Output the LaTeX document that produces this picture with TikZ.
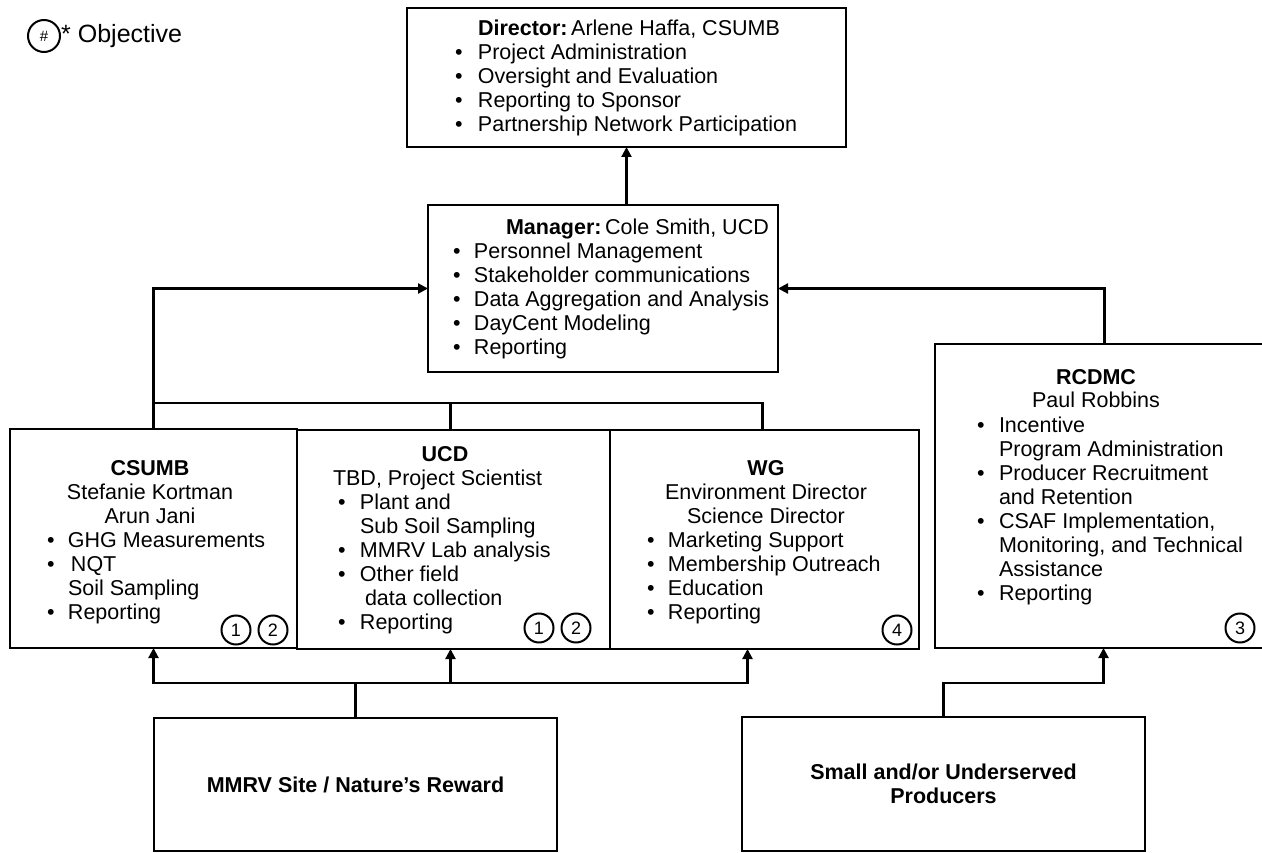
\documentclass[tikz,border=0pt]{standalone}
\usepackage{fontspec}
\setmainfont{Liberation Sans}
\usetikzlibrary{arrows.meta}
\newcommand\bodyfs{\fontsize{21.5}{24}\selectfont}
\newcommand\numfs{\fontsize{18}{20}\selectfont}
\newcommand\legfs{\fontsize{25}{28}\selectfont}
\newcommand\hdr[1]{\begin{tabular}[t]{@{}c@{}}#1\end{tabular}}
\newcommand\blist[2]{\begin{tabular}[t]{@{}p{#1}@{}l@{}}#2\end{tabular}}
\newcommand\bu{\textbullet}
\newcommand\hrow[2]{\multicolumn{2}{@{}l@{}}{\hspace*{#1}#2}}
\begin{document}
\begin{tikzpicture}[x=1pt,y=-1pt,
  box/.style={draw, line width=2.2pt, inner sep=0pt, outer sep=0pt},
  conn/.style={line width=2.2pt},
  arr/.style={conn, -{Triangle[length=10pt,width=10pt]}},
  txt/.style={inner sep=0pt, outer sep=0pt, font=\bodyfs},
  num/.style={draw, circle, line width=2pt, minimum size=29pt, inner sep=0pt, font=\numfs},
]
\useasboundingbox (0,0) rectangle (1262,853);

% legend
\node[num, minimum size=32pt, font=\fontsize{15}{17}\selectfont] (leg) at (44,36) {\#};
\node[inner sep=0pt, anchor=base west, font=\legfs] (legtxt) at (61,43) {* Objective};

% boxes
\node[box, minimum width=439pt, minimum height=139pt] (dir) at (626.5,77.5) {};
\node[box, minimum width=350pt, minimum height=167pt] (mgr) at (603,288.5) {};
\node[box, minimum width=287pt, minimum height=219pt] (csumb) at (153.5,538.5) {};
\node[box, minimum width=313pt, minimum height=219pt] (ucd) at (453.5,539.5) {};
\node[box, minimum width=309pt, minimum height=219pt] (wg) at (764.5,539.5) {};
\node[box, minimum width=331pt, minimum height=304pt] (rcd) at (1100.5,496) {};
\node[box, minimum width=403pt, minimum height=133pt] (mmrv) at (355.5,784.5) {};
\node[box, minimum width=403pt, minimum height=134pt] (small) at (943.5,784) {};

% director text
\node[txt, anchor=base west] (dirT) at (455,36) {\blist{23pt}{%
\hrow{23pt}{\textbf{Director:}\,Arlene Haffa, CSUMB}\\
\bu & Project Administration\\
\bu & Oversight and Evaluation\\
\bu & Reporting to Sponsor\\
\bu & Partnership Network Participation}};

% manager text
\node[txt, anchor=base west] (mgrT) at (453,235) {\blist{21pt}{%
\hrow{53pt}{\textbf{Manager:}\,Cole Smith, UCD}\\
\bu & Personnel Management\\
\bu & Stakeholder communications\\
\bu & Data Aggregation and Analysis\\
\bu & DayCent Modeling\\
\bu & Reporting}};

% CSUMB
\node[txt, anchor=base] (csumbH) at (150,475) {\hdr{\textbf{CSUMB}\\Stefanie Kortman\\Arun Jani}};
\node[txt, anchor=base west] (csumbT) at (47,547) {\blist{21pt}{%
\bu & GHG Measurements\\
\bu & \hspace*{3pt}NQT\\
 & Soil Sampling\\
\bu & Reporting}};
\node[num] (c1a) at (236,630) {1};
\node[num] (c2a) at (273,630) {2};

% UCD
\node[txt, anchor=base] (ucdH) at (445,461) {\textbf{UCD}};
\node[txt, anchor=base west] (ucdT) at (338,485) {\blist{22pt}{%
\hrow{-5pt}{TBD, Project Scientist}\\
\bu & Plant and\\
 & Sub Soil Sampling\\
\bu & MMRV Lab analysis\\
\bu & Other field\\
 & \hspace*{5pt}data collection\\
\bu & Reporting}};
\node[num] (c1b) at (539,628) {1};
\node[num] (c2b) at (576,628) {2};

% WG
\node[txt, anchor=base] (wgH) at (766,475) {\hdr{\textbf{WG}\\Environment Director\\Science Director}};
\node[txt, anchor=base west] (wgT) at (647,547) {\blist{21pt}{%
\bu & Marketing Support\\
\bu & Membership Outreach\\
\bu & Education\\
\bu & Reporting}};
\node[num] (c4) at (897,630) {4};

% RCDMC
\node[txt, anchor=base] (rcdH) at (1096,384) {\hdr{\textbf{RCDMC}\\Paul Robbins}};
\node[txt, anchor=base west] (rcdT) at (977,432) {\blist{22pt}{%
\bu & Incentive\\
 & Program Administration\\
\bu & Producer Recruitment\\
 & and Retention\\
\bu & CSAF Implementation,\\
 & Monitoring, and Technical\\
 & Assistance\\
\bu & Reporting}};
\node[num] (c3) at (1240,628) {3};

% bottom texts
\node[txt, anchor=base] (mmrvT) at (355.5,792) {\textbf{MMRV Site / Nature's Reward}};
\node[txt, anchor=base] (smallT) at (943.5,779) {\hdr{\textbf{Small and/or Underserved}\\\textbf{Producers}}};

% connectors
\coordinate (busT) at (0,403);
\coordinate (busB) at (0,683);
\draw[arr] (dir.south |- mgr.north) -- (dir.south);
\draw[arr] (csumb.north) |- (mgr.west);
\draw[conn] (csumb.north |- busT) -| ([xshift=-2pt]wg.north);
\draw[conn] ([xshift=-3pt]ucd.north) -- ([xshift=-3pt]ucd.north |- busT);
\draw[arr] ([xshift=4pt]rcd.north) |- (mgr.east);
\draw[arr] (mmrv.north) |- (csumb.south |- busB) -- (csumb.south);
\draw[arr] (mmrv.north |- busB) -| ([xshift=-17pt]wg.south);
\draw[arr] ([xshift=-3pt]ucd.south |- busB) -- ([xshift=-3pt]ucd.south);
\draw[arr] (small.north) |- ([xshift=3pt]rcd.south |- busB) -- ([xshift=3pt]rcd.south);
\end{tikzpicture}
\end{document}
